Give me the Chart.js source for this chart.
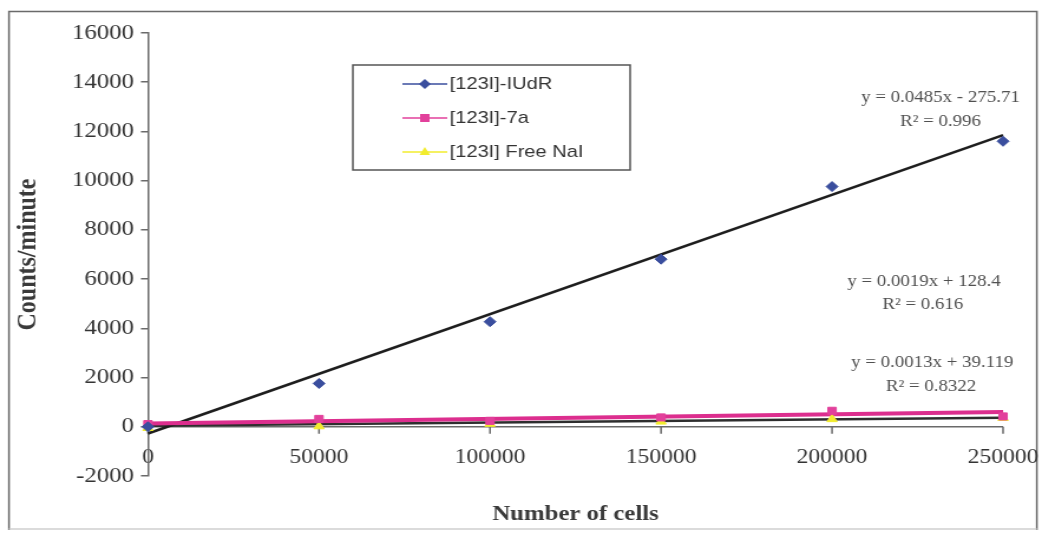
<!DOCTYPE html>
<html>
<head>
<meta charset="utf-8">
<title>Counts/minute vs Number of cells</title>
<script src="https://cdn.jsdelivr.net/npm/chart.js@4/dist/chart.umd.min.js"></script>
<style>
  html, body { margin: 0; padding: 0; background: #fff; overflow: hidden; }
  #wrap { width: 1042px; height: 534px; position: relative; }
  /* the figure is drawn on a narrower canvas and widened, giving the wide serif lettering */
  #c { position: absolute; left: 0; top: 0; transform-origin: 0 0; transform: scaleX(1.18007); }
</style>
</head>
<body>
<div id="wrap"><canvas id="c" width="883" height="534"></canvas></div>
<script>
// Cell numbers on the x axis
const cellCounts = [0, 50000, 100000, 150000, 200000, 250000];

// Measured counts per minute for each tracer
const iudrCounts = [0, 1760, 4270, 6810, 9760, 11600];
const sevenACounts = [110, 320, 240, 380, 650, 420];
const freeNaiCounts = [-50, 20, 120, 210, 310, 360];

const seriesNames = ['[123I]-IUdR', '[123I]-7a', '[123I] Free NaI'];

// Linear fits, as printed next to the lines
const fitSlopes = [0.0485, 0.0019, 0.0013];
const fitIntercepts = [-275.71, 128.4, 39.119];
const fitEquations = ['y = 0.0485x - 275.71', 'y = 0.0019x + 128.4', 'y = 0.0013x + 39.119'];
const fitR2 = ['R\u00B2 = 0.996', 'R\u00B2 = 0.616', 'R\u00B2 = 0.8322'];

// Axis tick values
const yTicks = [-2000, 0, 2000, 4000, 6000, 8000, 10000, 12000, 14000, 16000];
const xTicks = [0, 50000, 100000, 150000, 200000, 250000];

const xMin = xTicks[0], xMax = xTicks[xTicks.length - 1];

const colors = ['#3a4e9e', '#e2409b', '#f2ec2e'];
const fitColors = ['#1e1e1e', '#dc2e8e', '#2e2e2e'];
const markerStyles = ['rectRot', 'rect', 'triangle'];

const pts = (vals) => cellCounts.map((x, i) => ({ x, y: vals[i] }));
const fitLine = (k) => [
  { x: xMin, y: fitSlopes[k] * xMin + fitIntercepts[k] },
  { x: xMax, y: fitSlopes[k] * xMax + fitIntercepts[k] }
];

const SERIF = '"Liberation Serif", "Times New Roman", serif';
const SANS = '"Liberation Sans", Arial, sans-serif';

const markerSets = [iudrCounts, sevenACounts, freeNaiCounts].map((vals, k) => ({
  label: seriesNames[k],
  data: pts(vals),
  showLine: false,
  pointStyle: markerStyles[k],
  pointRadius: 5,
  pointBackgroundColor: colors[k],
  pointBorderColor: colors[k],
  pointBorderWidth: 1,
  clip: false,
  order: 0
}));

const fitSets = [0, 1, 2].map(k => ({
  label: 'fit ' + seriesNames[k],
  data: fitLine(k),
  showLine: true,
  borderColor: fitColors[k],
  borderWidth: k === 1 ? 4 : 2.6,
  pointRadius: 0,
  clip: false,
  order: k === 1 ? 1 : 2
}));

function drawMarker(ctx, style, cx, cy, r, color) {
  ctx.save();
  ctx.fillStyle = color;
  ctx.beginPath();
  if (style === 'rectRot') {
    ctx.moveTo(cx, cy - r); ctx.lineTo(cx + r, cy); ctx.lineTo(cx, cy + r); ctx.lineTo(cx - r, cy);
  } else if (style === 'rect') {
    ctx.rect(cx - r * 0.8, cy - r * 0.8, r * 1.6, r * 1.6);
  } else {
    ctx.moveTo(cx, cy - r); ctx.lineTo(cx + r * 0.9, cy + r * 0.6); ctx.lineTo(cx - r * 0.9, cy + r * 0.6);
  }
  ctx.closePath();
  ctx.fill();
  ctx.restore();
}

const decor = {
  id: 'decor',
  beforeDraw(chart) {
    const ctx = chart.ctx;
    ctx.save();
    ctx.fillStyle = '#fff';
    ctx.fillRect(0, 0, chart.width, chart.height);
    ctx.lineWidth = 1.5;
    ctx.strokeStyle = '#6a6a6a';
    ctx.beginPath();
    ctx.moveTo(7.6, 530);
    ctx.lineTo(7.6, 11.5);
    ctx.lineTo(878.6, 11.5);
    ctx.lineTo(878.6, 530);
    ctx.stroke();
    ctx.strokeStyle = '#cfcfcf';
    ctx.beginPath();
    ctx.moveTo(7.6, 529);
    ctx.lineTo(878.6, 529);
    ctx.stroke();
    ctx.restore();
  },
  beforeDatasetsDraw(chart) {
    // x axis line crossing at zero, with tick marks hanging below it
    const { ctx, scales: { x, y } } = chart;
    const y0 = y.getPixelForValue(0);
    ctx.save();
    ctx.strokeStyle = '#6a6a6a';
    ctx.lineWidth = 1.5;
    ctx.beginPath();
    ctx.moveTo(x.left, y0);
    ctx.lineTo(x.right, y0);
    xTicks.forEach(v => {
      const px = x.getPixelForValue(v);
      ctx.moveTo(px, y0);
      ctx.lineTo(px, y0 + 7);
    });
    ctx.stroke();
    ctx.restore();
  },
  afterDraw(chart) {
    const ctx = chart.ctx;
    ctx.save();
    // legend box
    ctx.fillStyle = '#fff';
    ctx.fillRect(299, 65, 235, 105);
    ctx.strokeStyle = '#555';
    ctx.lineWidth = 1.5;
    ctx.strokeRect(299, 65, 235, 105);
    const rows = [84, 118, 152];
    ctx.font = '17px ' + SANS;
    ctx.textBaseline = 'middle';
    ctx.textAlign = 'left';
    rows.forEach((ry, k) => {
      ctx.strokeStyle = colors[k];
      ctx.lineWidth = 1.5;
      ctx.beginPath();
      ctx.moveTo(341, ry);
      ctx.lineTo(379, ry);
      ctx.stroke();
      drawMarker(ctx, markerStyles[k], 360, ry, 5, colors[k]);
      ctx.fillStyle = '#333';
      ctx.fillText(seriesNames[k], 381, ry);
    });
    // fit equations
    ctx.font = '16px ' + SERIF;
    ctx.fillStyle = '#505050';
    ctx.textAlign = 'center';
    const eqPos = [[797, 98, 797, 122], [783, 282, 782, 305], [790, 363, 789, 387]];
    eqPos.forEach((p, k) => {
      ctx.fillText(fitEquations[k], p[0], p[1]);
      ctx.fillText(fitR2[k], p[2], p[3]);
    });
    ctx.restore();
  }
};

new Chart(document.getElementById('c'), {
  type: 'scatter',
  data: { datasets: [...markerSets, ...fitSets] },
  options: {
    responsive: false,
    devicePixelRatio: 1,
    animation: false,
    layout: { padding: { top: 33, right: 33, bottom: 0, left: 0 } },
    plugins: {
      legend: { display: false },
      tooltip: { enabled: false }
    },
    scales: {
      x: {
        type: 'linear',
        min: xMin,
        max: xMax,
        afterBuildTicks(scale) { scale.ticks = xTicks.map(v => ({ value: v })); },
        afterFit(scale) {
          scale.height = 58;
          scale.paddingLeft = 0;
          scale.paddingRight = 0;
        },
        grid: { display: false, drawTicks: false },
        border: { display: false },
        ticks: {
          mirror: true,
          padding: 6,
          color: '#333',
          font: { family: SERIF, size: 20 },
          maxRotation: 0,
          autoSkip: false,
          callback: v => String(v)
        },
        title: {
          display: true,
          text: 'Number of cells',
          color: '#3a3a3a',
          font: { family: SERIF, size: 21, weight: 'bold' },
          padding: { top: 0, bottom: 7 }
        }
      },
      y: {
        type: 'linear',
        min: yTicks[0],
        max: yTicks[yTicks.length - 1],
        afterBuildTicks(scale) { scale.ticks = yTicks.map(v => ({ value: v })); },
        afterFit(scale) { scale.width = 125.4; },
        grid: { display: true, drawOnChartArea: false, drawTicks: true, tickLength: 6, color: '#6a6a6a', lineWidth: 1.5 },
        border: { display: true, color: '#6a6a6a', width: 1.5 },
        ticks: {
          padding: 6,
          color: '#333',
          font: { family: SERIF, size: 21 },
          callback: v => String(v)
        },
        title: {
          display: true,
          text: 'Counts/minute',
          color: '#3a3a3a',
          font: { family: SERIF, size: 24, weight: 'bold' },
          padding: { top: 9, bottom: 0 }
        }
      }
    }
  },
  plugins: [decor]
});
</script>
</body>
</html>
